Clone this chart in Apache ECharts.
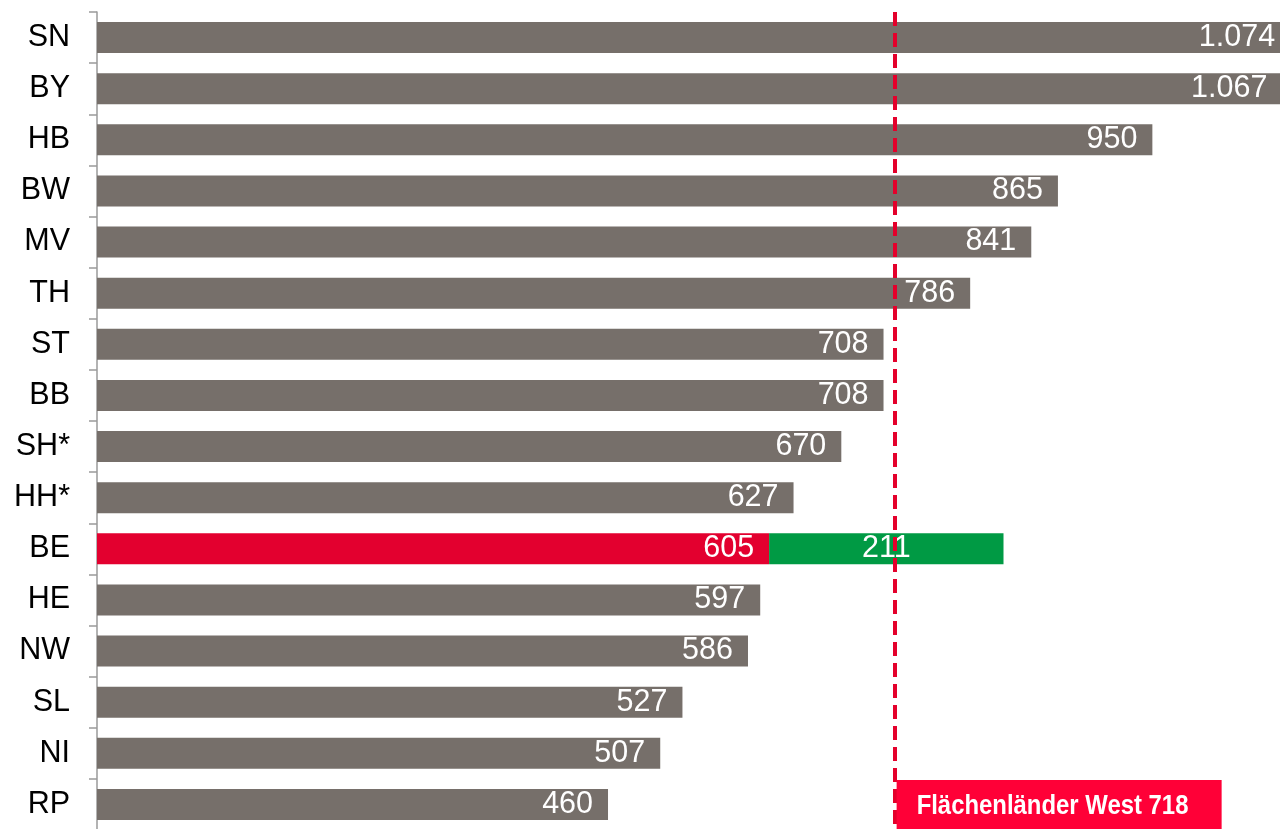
<!DOCTYPE html>
<html><head><meta charset="utf-8">
<script src="https://cdn.jsdelivr.net/npm/echarts@6/dist/echarts.min.js"></script>
<style>html,body{margin:0;padding:0;background:#fff}#c{width:1280px;height:829px}</style>
</head><body><div id="c"></div>
<script>
const categories = ['SN','BY','HB','BW','MV','TH','ST','BB','SH*','HH*','BE','HE','NW','SL','NI','RP'];
const grayValues = [1074,1067,950,865,841,786,708,708,670,627,null,597,586,527,507,460];
const berlinBase = [null,null,null,null,null,null,null,null,null,null,605,null,null,null,null,null];
const berlinExtra = [null,null,null,null,null,null,null,null,null,null,211,null,null,null,null,null];
const refValue = 718;
const refLabel = 'Flächenländer West 718';

const fmt = v => v == null ? '' : v.toString().replace(/\B(?=(\d{3})+(?!\d))/g, '.');
const toData = arr => arr.map(v => v == null ? '-' : v);
const FONT = 'Liberation Sans, Arial, sans-serif';
const labelStyle = {color:'#fff', fontSize:30.5, fontFamily:FONT};

const chart = echarts.init(document.getElementById('c'), null, {renderer:'canvas'});
chart.setOption({
  animation:false,
  grid:{left:97, top:12, width:1222, height:818, containLabel:false, outerBoundsMode:'none'},
  xAxis:{type:'value', min:0, max:1100, show:false, splitLine:{show:false}},
  yAxis:{type:'category', data:categories, inverse:true,
    axisLine:{show:true, lineStyle:{color:'#9a9a9a', width:1.5}},
    axisTick:{show:true, length:8, lineStyle:{color:'#9a9a9a', width:1.5}},
    axisLabel:{color:'#000', fontSize:30.5, margin:27, fontFamily:FONT}},
  series:[
    {type:'bar', stack:'s', data:toData(grayValues), barWidth:31,
     itemStyle:{color:'#766f6a'},
     label:{show:true, position:'insideRight', distance:15, formatter:p=>fmt(p.value), ...labelStyle},
     markLine:{symbol:'none', silent:true,
       lineStyle:{color:'#e4002b', type:[14,7], width:4},
       label:{show:false},
       data:[{xAxis:refValue}]}},
    {type:'bar', stack:'s', data:toData(berlinBase), barWidth:31,
     itemStyle:{color:'#e3002f'},
     label:{show:true, position:'insideRight', distance:15, formatter:p=>fmt(p.value), ...labelStyle}},
    {type:'bar', stack:'s', data:toData(berlinExtra), barWidth:31,
     itemStyle:{color:'#009a44'},
     label:{show:true, position:'inside', formatter:p=>fmt(p.value), ...labelStyle}}
  ]
});
const px = chart.convertToPixel({xAxisIndex:0}, refValue);
chart.setOption({graphic:[
  {type:'rect', left:px+2, top:780, shape:{width:325, height:50}, style:{fill:'#ff0037'}, z:100},
  {type:'text', x:px+22, y:793, scaleX:0.885, style:{text:refLabel, fill:'#fff', fontSize:27, fontWeight:'bold', fontFamily:FONT}, z:101}
]});
</script></body></html>
